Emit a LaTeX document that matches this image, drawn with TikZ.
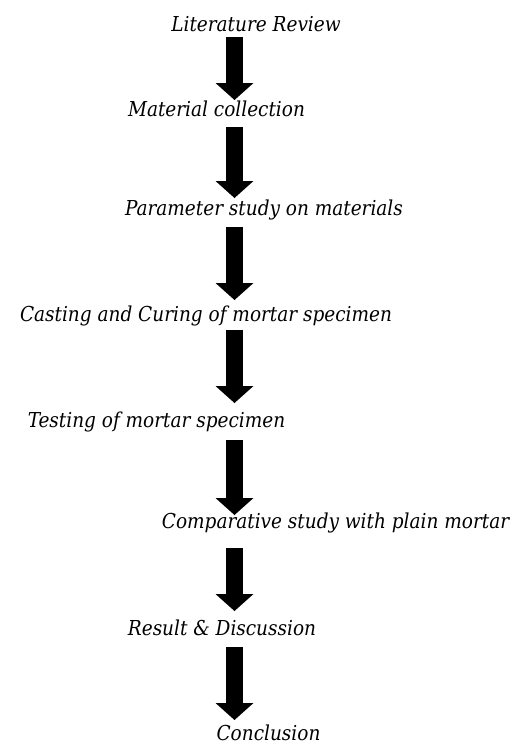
\documentclass[tikz,border=0pt]{standalone}
\usepackage{fontspec}
\setmainfont{DejaVu Serif Condensed}
\usetikzlibrary{arrows.meta}
\newlength\reflen
\begin{document}
\settowidth{\reflen}{\fontsize{10pt}{12pt}\selectfont\itshape Casting and Curing of mortar specimen}%
\pgfmathsetmacro\fs{10*372/\reflen}%
\begin{tikzpicture}[x=1pt,y=-1pt]
\tikzset{
  lbl/.style={anchor=base, inner sep=0pt, font=\fontsize{\fs pt}{\fs pt}\selectfont\itshape},
  blockarrow/.style={line width=17pt, -{Triangle[width=38pt,length=17pt,line width=0pt]}}
}
\useasboundingbox (0,0) rectangle (524,747);
\fill[white] (0,0) rectangle (524,747);
\node[lbl] (lit) at (256,31) {Literature Review};
\node[lbl] (mat) at (216.5,116) {Material collection};
\node[lbl] (par) at (264,215) {Parameter study on materials};
\node[lbl] (cas) at (206,321) {Casting and Curing of mortar specimen};
\node[lbl] (tes) at (156.5,427) {Testing of mortar specimen};
\node[lbl] (com) at (335.5,528) {Comparative study with plain mortar};
\node[lbl] (res) at (222,635) {Result \& Discussion};
\node[lbl] (con) at (268.5,740) {Conclusion};
\coordinate (a1s) at (234.5,37);  \coordinate (a1e) at (234.5,100);
\coordinate (a2s) at (234.5,127); \coordinate (a2e) at (234.5,198);
\coordinate (a3s) at (234.5,227); \coordinate (a3e) at (234.5,300);
\coordinate (a4s) at (234.5,330); \coordinate (a4e) at (234.5,403);
\coordinate (a5s) at (234.5,440); \coordinate (a5e) at (234.5,515);
\coordinate (a6s) at (234.5,548); \coordinate (a6e) at (234.5,611);
\coordinate (a7s) at (234.5,647); \coordinate (a7e) at (234.5,720);
\foreach \i in {1,...,7}{\draw[blockarrow] (a\i s) -- (a\i e);}
\end{tikzpicture}
\end{document}
